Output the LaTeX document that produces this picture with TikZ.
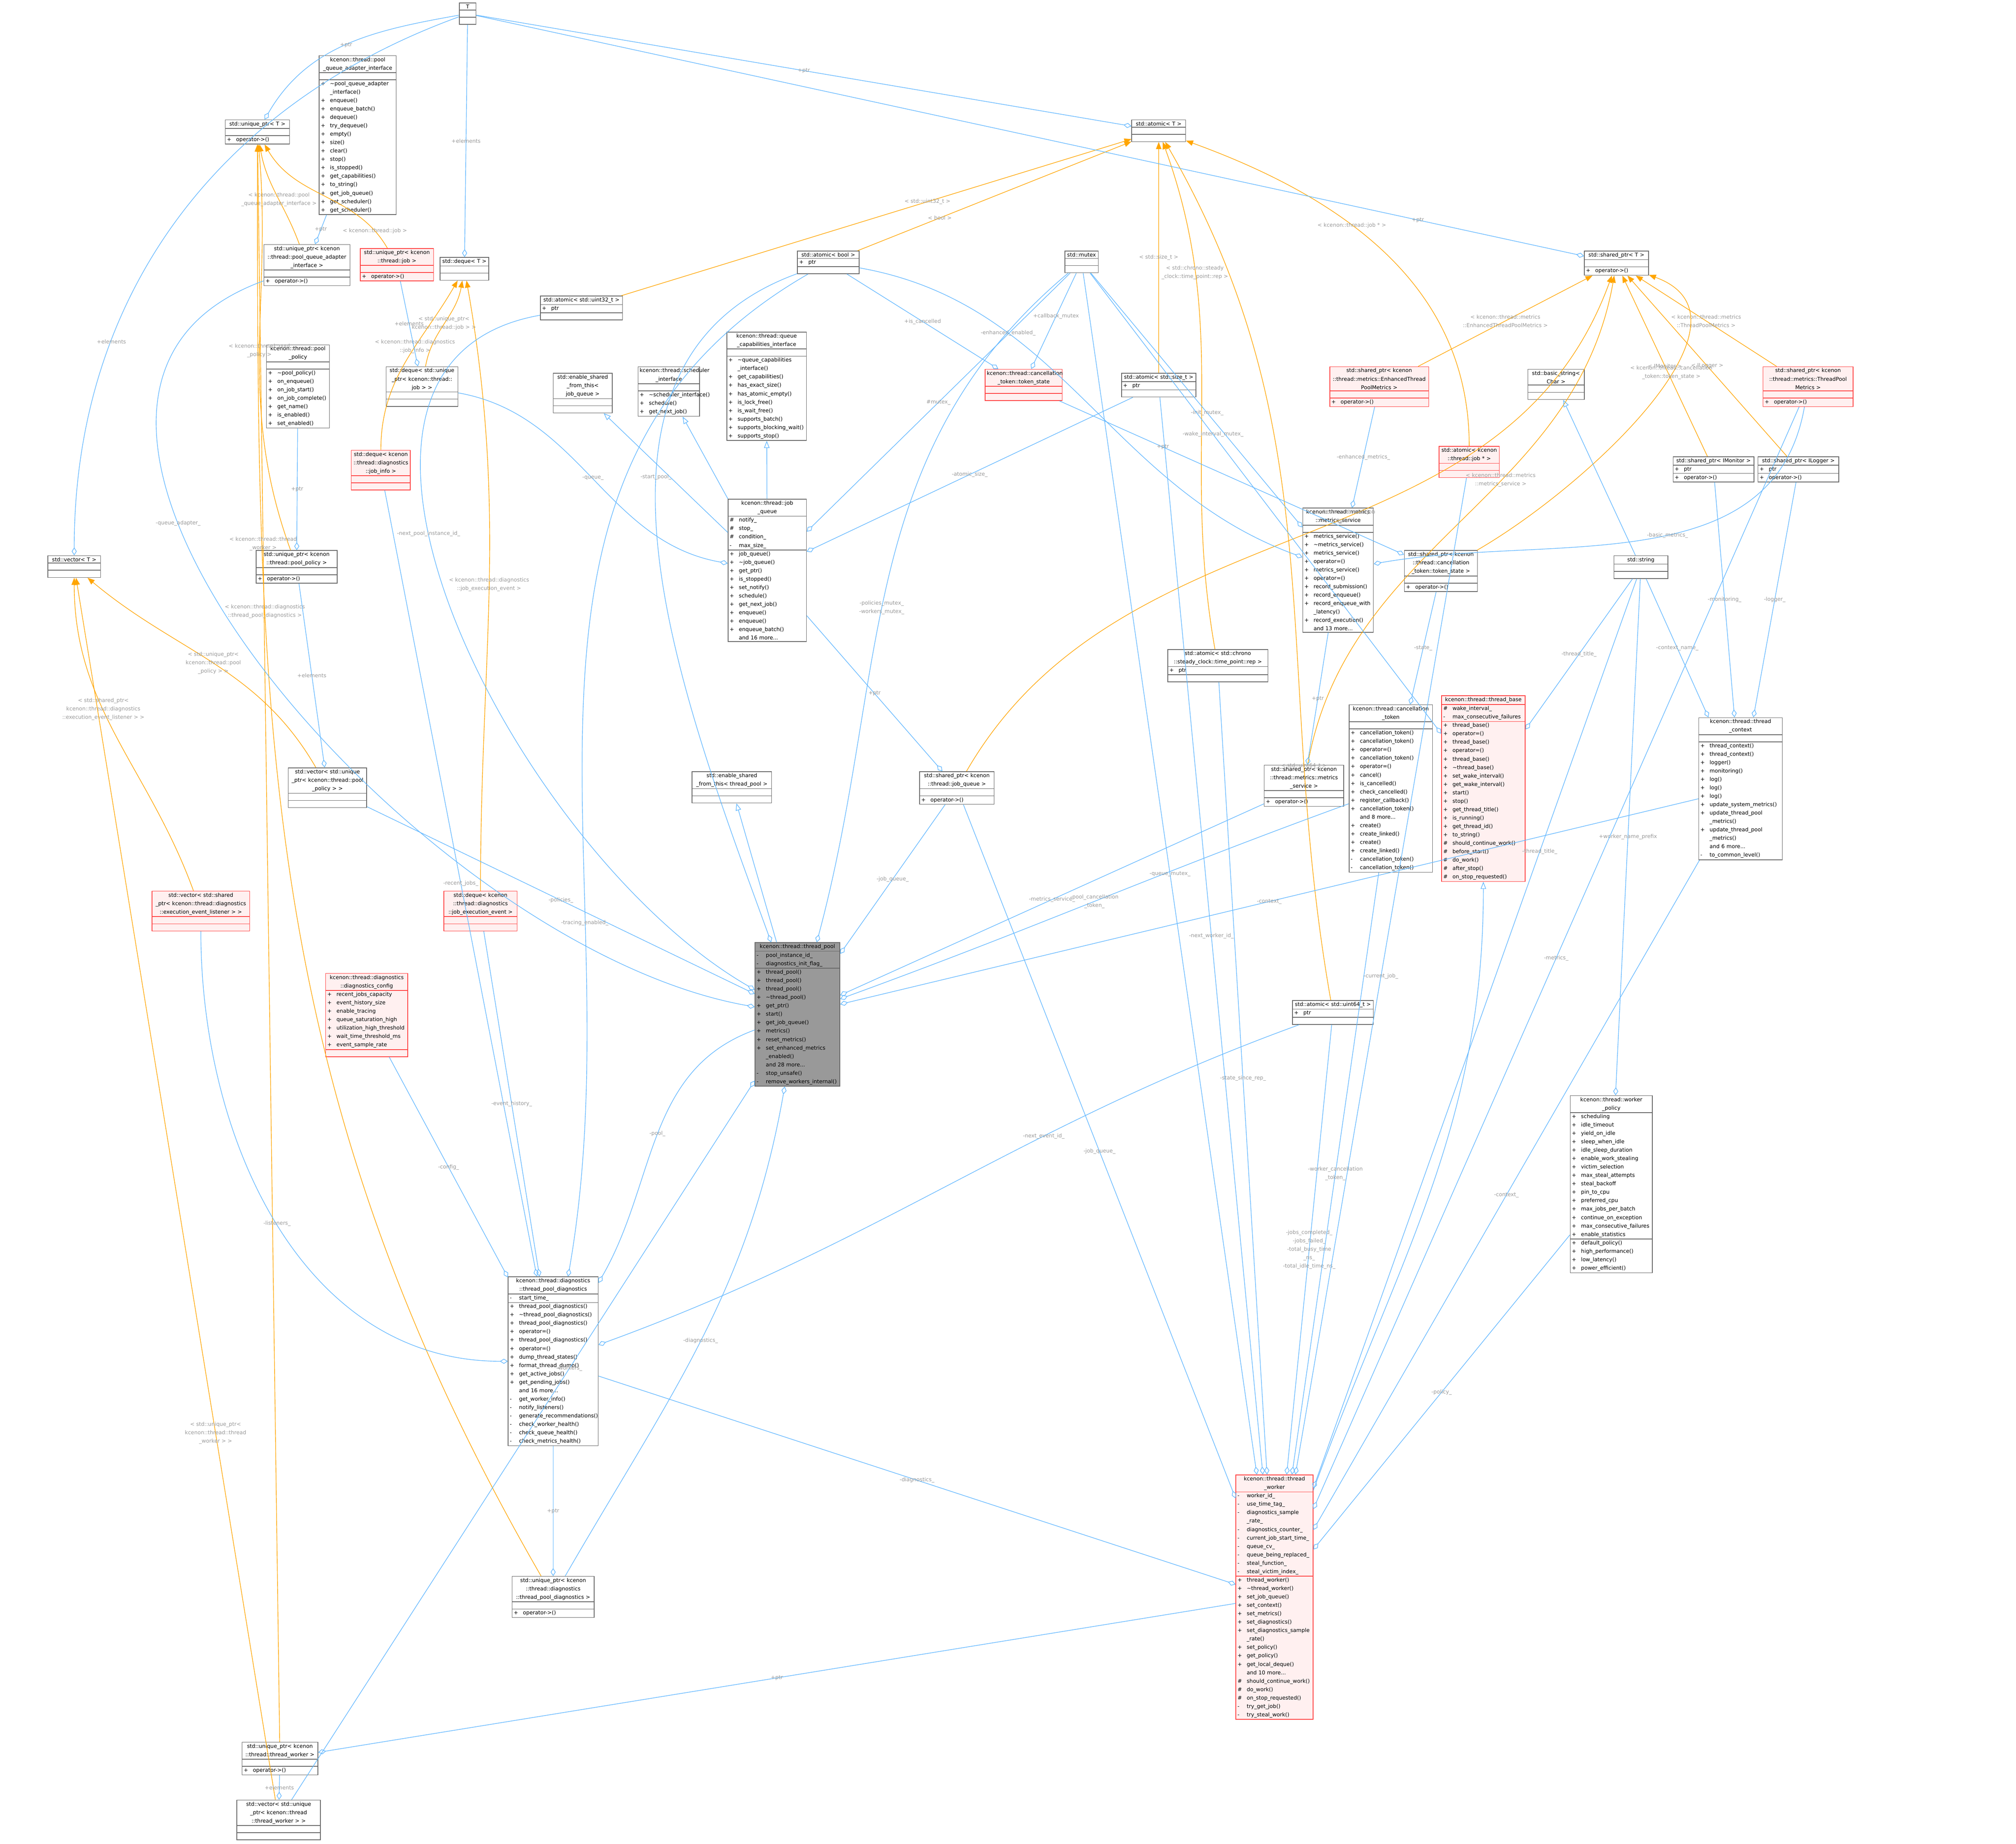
\documentclass[tikz,border=0pt]{standalone}
\usepackage{fontspec}
\setmainfont{DejaVu Sans}
\usetikzlibrary{shapes.multipart,arrows.meta}
\definecolor{bx}{HTML}{666666}
\definecolor{rbx}{HTML}{FF4040}
\definecolor{rfill}{HTML}{FFF0F0}
\definecolor{eb}{HTML}{63B8FF}
\definecolor{eo}{HTML}{FFA500}
\definecolor{lg}{HTML}{9A9A9A}
\newcommand\fs{\fontsize{3.6}{5.7}\selectfont}
\newcommand\Mb[2]{\makebox[2.2mm][l]{#1}#2\par}
\newcommand\Mc[1]{\hspace*{2.2mm}#1\par}
\newcommand\E{\rule{0pt}{2.6pt}}
\newcommand\ttl[1]{{\centering #1\par}}
\newcommand\cls[8][]{%
 \pgfmathsetmacro\tw{#5*0.3062-0.8}%
 \node[cls,#1,text width=\tw mm] (#2) at (#3,#4) {\ttl{#6}\nodepart{second}#7\nodepart{third}#8};}
\tikzset{
 cls/.style={rectangle split,rectangle split parts=3,draw=bx,fill=white,font=\fs,align=left,
   inner xsep=1.1pt,inner ysep=0.9pt,anchor=north west,line width=0.45pt,
   rectangle split ignore empty parts=false,rectangle split empty part height=2.6pt},
 red/.style={draw=rbx,fill=rfill},
 cur/.style={fill=black!40,draw=bx},
 lbl/.style={font=\fs,text=lg,align=center,inner sep=0.5pt},
 comp/.style={draw=eb,line width=0.4pt,-{Diamond[open,length=1.9mm,width=1.2mm]}},
 inh/.style={draw=eb,line width=0.4pt,-{Triangle[open,length=1.7mm,width=1.3mm]}},
 tmpl/.style={draw=eo,line width=0.4pt,-{Triangle[length=1.7mm,width=1.3mm]}},
}
\begin{document}
\begin{tikzpicture}[x=0.3062mm,y=-0.3062mm]
\path[fill=white,use as bounding box] (0,0) rectangle (1568,1434.4);
% ---------- nodes ----------
\cls{T}{357}{2}{13}{T}{\E}{\E}
\cls{uT}{175}{93}{50}{std::unique\_ptr< T >}{\E}{\Mb{+}{operator->()}}
\cls{pqai}{248}{43}{60}{kcenon::thread::pool\\\_queue\_adapter\_interface}{\E}{\Mb{+}{\textasciitilde pool\_queue\_adapter}\Mc{\_interface()}\Mb{+}{enqueue()}\Mb{+}{enqueue\_batch()}\Mb{+}{dequeue()}\Mb{+}{try\_dequeue()}\Mb{+}{empty()}\Mb{+}{size()}\Mb{+}{clear()}\Mb{+}{stop()}\Mb{+}{is\_stopped()}\Mb{+}{get\_capabilities()}\Mb{+}{to\_string()}\Mb{+}{get\_job\_queue()}\Mb{+}{get\_scheduler()}\Mb{+}{get\_scheduler()}}
\cls{upqa}{205}{190}{67}{std::unique\_ptr< kcenon\\::thread::pool\_queue\_adapter\\\_interface >}{\E}{\Mb{+}{operator->()}}
\cls[red]{ujob}{280}{193}{57}{std::unique\_ptr< kcenon\\::thread::job >}{\E}{\Mb{+}{operator->()}}
\cls{dqT}{342}{200}{38}{std::deque< T >}{\E}{\E}
\cls{atu32}{420}{230}{64}{std::atomic< std::uint32\_t >}{\Mb{+}{ptr}}{\E}
\cls{atT}{880}{93}{42}{std::atomic< T >}{\E}{\E}
\cls{atbool}{620}{195}{48}{std::atomic< bool >}{\Mb{+}{ptr}}{\E}
\cls{mutex}{828}{195}{26}{std::mutex}{\E}{\E}
\cls{shT}{1232}{195}{50}{std::shared\_ptr< T >}{\E}{\Mb{+}{operator->()}}
\cls{ppol}{207}{268}{49}{kcenon::thread::pool\\\_policy}{\E}{\Mb{+}{\textasciitilde pool\_policy()}\Mb{+}{on\_enqueue()}\Mb{+}{on\_job\_start()}\Mb{+}{on\_job\_complete()}\Mb{+}{get\_name()}\Mb{+}{is\_enabled()}\Mb{+}{set\_enabled()}}
\cls{dqujob}{300}{285}{56}{std::deque< std::unique\\\_ptr< kcenon::thread::\\job > >}{\E}{\E}
\cls{esftjq}{430}{290}{46}{std::enable\_shared\\\_from\_this< job\_queue >}{\E}{\E}
\cls{sched}{496}{285}{48}{kcenon::thread::scheduler\\\_interface}{\E}{\Mb{+}{\textasciitilde scheduler\_interface()}\Mb{+}{schedule()}\Mb{+}{get\_next\_job()}}
\cls{qcap}{565}{258}{62}{kcenon::thread::queue\\\_capabilities\_interface}{\E}{\Mb{+}{\textasciitilde queue\_capabilities}\Mc{\_interface()}\Mb{+}{get\_capabilities()}\Mb{+}{has\_exact\_size()}\Mb{+}{has\_atomic\_empty()}\Mb{+}{is\_lock\_free()}\Mb{+}{is\_wait\_free()}\Mb{+}{supports\_batch()}\Mb{+}{supports\_blocking\_wait()}\Mb{+}{supports\_stop()}}
\cls[red]{tstate}{766}{287}{60}{kcenon::thread::cancellation\\\_token::token\_state}{\E}{\E}
\cls{atsize}{872}{290}{58}{std::atomic< std::size\_t >}{\Mb{+}{ptr}}{\E}
\cls[red]{shenh}{1034}{285}{77}{std::shared\_ptr< kcenon\\::thread::metrics::EnhancedThread\\PoolMetrics >}{\E}{\Mb{+}{operator->()}}
\cls{bstr}{1188}{287}{44}{std::basic\_string<\\Char >}{\E}{\E}
\cls[red]{shtpm}{1371}{285}{70}{std::shared\_ptr< kcenon\\::thread::metrics::ThreadPool\\Metrics >}{\E}{\Mb{+}{operator->()}}
\cls[red]{dqji}{273}{350}{46}{std::deque< kcenon\\::thread::diagnostics\\::job\_info >}{\E}{\E}
\cls[red]{atjob}{1119}{347}{47}{std::atomic< kcenon\\::thread::job * >}{\E}{\E}
\cls{shmon}{1301}{355}{63}{std::shared\_ptr< IMonitor >}{\Mb{+}{ptr}}{\Mb{+}{operator->()}}
\cls{shlog}{1367}{355}{63}{std::shared\_ptr< ILogger >}{\Mb{+}{ptr}}{\Mb{+}{operator->()}}
\cls{upp}{199}{428}{63}{std::unique\_ptr< kcenon\\::thread::pool\_policy >}{\E}{\Mb{+}{operator->()}}
\cls{vecT}{37}{432}{41}{std::vector< T >}{\E}{\E}
\cls{jq}{566}{388}{61}{kcenon::thread::job\\\_queue}{\Mb{\#}{notify\_}\Mb{\#}{stop\_}\Mb{\#}{condition\_}\Mb{-}{max\_size\_}}{\Mb{+}{job\_queue()}\Mb{+}{\textasciitilde job\_queue()}\Mb{+}{get\_ptr()}\Mb{+}{is\_stopped()}\Mb{+}{set\_notify()}\Mb{+}{schedule()}\Mb{+}{get\_next\_job()}\Mb{+}{enqueue()}\Mb{+}{enqueue()}\Mb{+}{enqueue\_batch()}\Mc{and 16 more...}}
\cls{ms}{1013}{395}{55}{kcenon::thread::metrics\\::metrics\_service}{\E}{\Mb{+}{metrics\_service()}\Mb{+}{\textasciitilde metrics\_service()}\Mb{+}{metrics\_service()}\Mb{+}{operator=()}\Mb{+}{metrics\_service()}\Mb{+}{operator=()}\Mb{+}{record\_submission()}\Mb{+}{record\_enqueue()}\Mb{+}{record\_enqueue\_with}\Mc{\_latency()}\Mb{+}{record\_execution()}\Mc{and 13 more...}}
\cls{shts}{1092}{428}{57}{std::shared\_ptr< kcenon\\::thread::cancellation\\\_token::token\_state >}{\E}{\Mb{+}{operator->()}}
\cls{str}{1255}{432}{42}{std::string}{\E}{\E}
\cls{atrep}{908}{505}{78}{std::atomic< std::chrono\\::steady\_clock::time\_point::rep >}{\Mb{+}{ptr}}{\E}
\cls{ctok}{1049}{548}{65}{kcenon::thread::cancellation\\\_token}{\E}{\Mb{+}{cancellation\_token()}\Mb{+}{cancellation\_token()}\Mb{+}{operator=()}\Mb{+}{cancellation\_token()}\Mb{+}{operator=()}\Mb{+}{cancel()}\Mb{+}{is\_cancelled()}\Mb{+}{check\_cancelled()}\Mb{+}{register\_callback()}\Mb{+}{cancellation\_token()}\Mc{and 8 more...}\Mb{+}{create()}\Mb{+}{create\_linked()}\Mb{+}{create()}\Mb{+}{create\_linked()}\Mb{-}{cancellation\_token()}\Mb{-}{cancellation\_token()}}
\cls[red]{tbase}{1121}{541}{65}{kcenon::thread::thread\_base}{\Mb{\#}{wake\_interval\_}\Mb{-}{max\_consecutive\_failures}}{\Mb{+}{thread\_base()}\Mb{+}{operator=()}\Mb{+}{thread\_base()}\Mb{+}{operator=()}\Mb{+}{thread\_base()}\Mb{+}{\textasciitilde thread\_base()}\Mb{+}{set\_wake\_interval()}\Mb{+}{get\_wake\_interval()}\Mb{+}{start()}\Mb{+}{stop()}\Mb{+}{get\_thread\_title()}\Mb{+}{is\_running()}\Mb{+}{get\_thread\_id()}\Mb{+}{to\_string()}\Mb{\#}{should\_continue\_work()}\Mb{\#}{before\_start()}\Mb{\#}{do\_work()}\Mb{\#}{after\_stop()}\Mb{\#}{on\_stop\_requested()}}
\cls{tctx}{1321}{558}{65}{kcenon::thread::thread\\\_context}{\E}{\Mb{+}{thread\_context()}\Mb{+}{thread\_context()}\Mb{+}{logger()}\Mb{+}{monitoring()}\Mb{+}{log()}\Mb{+}{log()}\Mb{+}{log()}\Mb{+}{update\_system\_metrics()}\Mb{+}{update\_thread\_pool}\Mc{\_metrics()}\Mb{+}{update\_thread\_pool}\Mc{\_metrics()}\Mc{and 6 more...}\Mb{-}{to\_common\_level()}}
\cls{vecupp}{224}{597}{61}{std::vector< std::unique\\\_ptr< kcenon::thread::pool\\\_policy > >}{\E}{\E}
\cls{esfttp}{538}{600}{62}{std::enable\_shared\\\_from\_this< thread\_pool >}{\E}{\E}
\cls{shjq}{715}{600}{58}{std::shared\_ptr< kcenon\\::thread::job\_queue >}{\E}{\Mb{+}{operator->()}}
\cls{shms}{983}{595}{62}{std::shared\_ptr< kcenon\\::thread::metrics::metrics\\\_service >}{\E}{\Mb{+}{operator->()}}
\cls[red]{veclis}{118}{693}{76}{std::vector< std::shared\\\_ptr< kcenon::thread::diagnostics\\::execution\_event\_listener > >}{\E}{\E}
\cls[red]{dqjee}{345}{693}{57}{std::deque< kcenon\\::thread::diagnostics\\::job\_execution\_event >}{\E}{\E}
\cls[cur]{tp}{587}{733}{66}{kcenon::thread::thread\_pool}{\Mb{-}{pool\_instance\_id\_}\Mb{-}{diagnostics\_init\_flag\_}}{\Mb{+}{thread\_pool()}\Mb{+}{thread\_pool()}\Mb{+}{thread\_pool()}\Mb{+}{\textasciitilde thread\_pool()}\Mb{+}{get\_ptr()}\Mb{+}{start()}\Mb{+}{get\_job\_queue()}\Mb{+}{metrics()}\Mb{+}{reset\_metrics()}\Mb{+}{set\_enhanced\_metrics}\Mc{\_enabled()}\Mc{and 28 more...}\Mb{-}{stop\_unsafe()}\Mb{-}{remove\_workers\_internal()}}
\cls[red]{dcfg}{253}{757}{64}{kcenon::thread::diagnostics\\::diagnostics\_config}{\Mb{+}{recent\_jobs\_capacity}\Mb{+}{event\_history\_size}\Mb{+}{enable\_tracing}\Mb{+}{queue\_saturation\_high}\Mb{+}{utilization\_high\_threshold}\Mb{+}{wait\_time\_threshold\_ms}\Mb{+}{event\_sample\_rate}}{\E}
\cls{atu64}{1005}{778}{63}{std::atomic< std::uint64\_t >}{\Mb{+}{ptr}}{\E}
\cls{wpol}{1221}{852}{64}{kcenon::thread::worker\\\_policy}{\Mb{+}{scheduling}\Mb{+}{idle\_timeout}\Mb{+}{yield\_on\_idle}\Mb{+}{sleep\_when\_idle}\Mb{+}{idle\_sleep\_duration}\Mb{+}{enable\_work\_stealing}\Mb{+}{victim\_selection}\Mb{+}{max\_steal\_attempts}\Mb{+}{steal\_backoff}\Mb{+}{pin\_to\_cpu}\Mb{+}{preferred\_cpu}\Mb{+}{max\_jobs\_per\_batch}\Mb{+}{continue\_on\_exception}\Mb{+}{max\_consecutive\_failures}\Mb{+}{enable\_statistics}}{\Mb{+}{default\_policy()}\Mb{+}{high\_performance()}\Mb{+}{low\_latency()}\Mb{+}{power\_efficient()}}
\cls{tpd}{395}{993}{70}{kcenon::thread::diagnostics\\::thread\_pool\_diagnostics}{\Mb{-}{start\_time\_}}{\Mb{+}{thread\_pool\_diagnostics()}\Mb{+}{\textasciitilde thread\_pool\_diagnostics()}\Mb{+}{thread\_pool\_diagnostics()}\Mb{+}{operator=()}\Mb{+}{thread\_pool\_diagnostics()}\Mb{+}{operator=()}\Mb{+}{dump\_thread\_states()}\Mb{+}{format\_thread\_dump()}\Mb{+}{get\_active\_jobs()}\Mb{+}{get\_pending\_jobs()}\Mc{and 16 more...}\Mb{-}{get\_worker\_info()}\Mb{-}{notify\_listeners()}\Mb{-}{generate\_recommendations()}\Mb{-}{check\_worker\_health()}\Mb{-}{check\_queue\_health()}\Mb{-}{check\_metrics\_health()}}
\cls[red]{tw}{961}{1147}{60}{kcenon::thread::thread\\\_worker}{\Mb{-}{worker\_id\_}\Mb{-}{use\_time\_tag\_}\Mb{-}{diagnostics\_sample}\Mc{\_rate\_}\Mb{-}{diagnostics\_counter\_}\Mb{-}{current\_job\_start\_time\_}\Mb{-}{queue\_cv\_}\Mb{-}{queue\_being\_replaced\_}\Mb{-}{steal\_function\_}\Mb{-}{steal\_victim\_index\_}}{\Mb{+}{thread\_worker()}\Mb{+}{\textasciitilde thread\_worker()}\Mb{+}{set\_job\_queue()}\Mb{+}{set\_context()}\Mb{+}{set\_metrics()}\Mb{+}{set\_diagnostics()}\Mb{+}{set\_diagnostics\_sample}\Mc{\_rate()}\Mb{+}{set\_policy()}\Mb{+}{get\_policy()}\Mb{+}{get\_local\_deque()}\Mc{and 10 more...}\Mb{\#}{should\_continue\_work()}\Mb{\#}{do\_work()}\Mb{\#}{on\_stop\_requested()}\Mb{-}{try\_get\_job()}\Mb{-}{try\_steal\_work()}}
\cls{utpd}{398}{1226}{64}{std::unique\_ptr< kcenon\\::thread::diagnostics\\::thread\_pool\_diagnostics >}{\E}{\Mb{+}{operator->()}}
\cls{utw}{188}{1355}{59}{std::unique\_ptr< kcenon\\::thread::thread\_worker >}{\E}{\Mb{+}{operator->()}}
\cls{vecutw}{184}{1400}{65}{std::vector< std::unique\\\_ptr< kcenon::thread\\::thread\_worker > >}{\E}{\E}
% ---------- template instances (orange) ----------
\draw[tmpl] (upqa) to[out=110,in=-80] node[lbl,pos=.45]{< kcenon::thread::pool\\\_queue\_adapter\_interface >} (uT);
\draw[tmpl] (ujob) to[out=120,in=-60] node[lbl,pos=.12]{< kcenon::thread::job >} (uT);
\draw[tmpl] (upp) to[out=110,in=-85] node[lbl,pos=.5]{< kcenon::thread::pool\\\_policy >} (uT);
\draw[tmpl] (utpd) to[out=120,in=-90] node[lbl,pos=.7]{< kcenon::thread::diagnostics\\::thread\_pool\_diagnostics >} (uT);
\draw[tmpl] (utw) -- node[lbl,pos=.75]{< kcenon::thread::thread\\\_worker >} (uT);
\draw[tmpl] (dqujob) to[out=80,in=-100] node[lbl,pos=.5]{< std::unique\_ptr<\\kcenon::thread::job > >} (dqT);
\draw[tmpl] (dqji) to[out=90,in=-120] node[lbl,pos=.6]{< kcenon::thread::diagnostics\\::job\_info >} (dqT);
\draw[tmpl] (dqjee) to[out=90,in=-80] node[lbl,pos=.5]{< kcenon::thread::diagnostics\\::job\_execution\_event >} (dqT);
\draw[tmpl] (veclis) to[out=110,in=-90] node[lbl,pos=.6]{< std::shared\_ptr<\\kcenon::thread::diagnostics\\::execution\_event\_listener > >} (vecT);
\draw[tmpl] (vecupp) to[out=120,in=-40] node[lbl,pos=.5]{< std::unique\_ptr<\\kcenon::thread::pool\\\_policy > >} (vecT);
\draw[tmpl] (vecutw) -- node[lbl,pos=.3]{< std::unique\_ptr<\\kcenon::thread::thread\\\_worker > >} (vecT);
\draw[tmpl] (atu32) -- node[lbl,pos=.6]{< std::uint32\_t >} (atT);
\draw[tmpl] (atbool) -- node[lbl,pos=.3]{< bool >} (atT);
\draw[tmpl] (atsize) -- node[lbl,pos=.5]{< std::size\_t >} (atT);
\draw[tmpl] (atrep) to[out=100,in=-70] node[lbl,pos=.75]{< std::chrono::steady\\\_clock::time\_point::rep >} (atT);
\draw[tmpl] (atu64) to[out=100,in=-60] node[lbl,pos=.25]{< std::uint64\_t >} (atT);
\draw[tmpl] (atjob) to[out=90,in=-20] node[lbl,pos=.6]{< kcenon::thread::job * >} (atT);
\draw[tmpl] (shenh) -- node[lbl,pos=.5]{< kcenon::thread::metrics\\::EnhancedThreadPoolMetrics >} (shT);
\draw[tmpl] (shtpm) -- node[lbl,pos=.5]{< kcenon::thread::metrics\\::ThreadPoolMetrics >} (shT);
\draw[tmpl] (shmon) -- node[lbl,pos=.5]{< IMonitor >} (shT);
\draw[tmpl] (shlog) -- node[lbl,pos=.5]{< ILogger >} (shT);
\draw[tmpl] (shts) to[out=30,in=-20] node[lbl,pos=.6]{< kcenon::thread::cancellation\\\_token::token\_state >} (shT);
\draw[tmpl] (shjq) to[out=60,in=-110] node[lbl,pos=.55]{< kcenon::thread::job\\\_queue >} (shT);
\draw[tmpl] (shms) to[out=80,in=-100] node[lbl,pos=.6]{< kcenon::thread::metrics\\::metrics\_service >} (shT);
% ---------- inheritance ----------
\draw[inh] (jq) -- (esftjq);
\draw[inh] (jq) -- (sched);
\draw[inh] (jq) -- (qcap);
\draw[inh] (tp) -- (esfttp);
\draw[inh] (tw) to[out=70,in=-90] (tbase);
\draw[inh] (str) -- (bstr);
% ---------- composition ----------
\draw[comp] (T) to[out=190,in=60] node[lbl,pos=.5]{+ptr} (uT);
\draw[comp] (T) -- node[lbl,pos=.5]{+ptr} (atT);
\draw[comp] (T) -- node[lbl,pos=.85]{+ptr} (shT);
\draw[comp] (T) -- node[lbl,pos=.5]{+elements} (dqT);
\draw[comp] (T) to[out=200,in=90] node[lbl,pos=.7]{+elements} (vecT);
\draw[comp] (pqai) -- node[lbl,pos=.5]{+ptr} (upqa);
\draw[comp] (ujob) -- node[lbl,pos=.5]{+elements} (dqujob);
\draw[comp] (ppol) -- node[lbl,pos=.5]{+ptr} (upp);
\draw[comp] (upp) -- node[lbl,pos=.5]{+elements} (vecupp);
\draw[comp] (vecupp) -- node[lbl,pos=.5]{-policies\_} (tp);
\draw[comp] (upqa) to[out=200,in=170] node[lbl,pos=.35]{-queue\_adapter\_} (tp);
\draw[comp] (atu32) to[out=190,in=150] node[lbl,pos=.4]{-next\_pool\_instance\_id\_} (tp);
\draw[comp] (atbool) to[out=200,in=110] node[lbl,pos=.4]{-start\_pool\_} (tp);
\draw[comp] (dqujob) to[out=-10,in=170] node[lbl,pos=.5]{-queue\_} (jq);
\draw[comp] (mutex) -- node[lbl,pos=.5]{\#mutex\_} (jq);
\draw[comp] (atbool) -- node[lbl,pos=.5]{+is\_cancelled} (tstate);
\draw[comp] (mutex) -- node[lbl,pos=.45]{+callback\_mutex} (tstate);
\draw[comp] (atsize) -- node[lbl,pos=.5]{-atomic\_size\_} (jq);
\draw[comp] (atbool) to[out=-10,in=160] node[lbl,pos=.3]{-enhanced\_enabled\_} (ms);
\draw[comp] (mutex) -- node[lbl,pos=.55]{-init\_mutex\_} (ms);
\draw[comp] (shenh) -- node[lbl,pos=.5]{-enhanced\_metrics\_} (ms);
\draw[comp] (shtpm) to[out=-100,in=10] node[lbl,pos=.45]{-basic\_metrics\_} (ms);
\draw[comp] (tstate) -- node[lbl,pos=.3]{+ptr} (shts);
\draw[comp] (shts) -- node[lbl,pos=.5]{-state\_} (ctok);
\draw[comp] (mutex) -- node[lbl,pos=.35]{-wake\_interval\_mutex\_} (tbase);
\draw[comp] (str) -- node[lbl,pos=.5]{-thread\_title\_} (tbase);
\draw[comp] (str) -- node[lbl,pos=.5]{-context\_name\_} (tctx);
\draw[comp] (str) -- node[lbl,pos=.5]{+worker\_name\_prefix} (wpol);
\draw[comp] (shmon) -- node[lbl,pos=.5]{-monitoring\_} (tctx);
\draw[comp] (shlog) -- node[lbl,pos=.5]{-logger\_} (tctx);
\draw[comp] (jq) -- node[lbl,pos=.5]{+ptr} (shjq);
\draw[comp] (ms) -- node[lbl,pos=.5]{+ptr} (shms);
\draw[comp] (shjq) -- node[lbl,pos=.5]{-job\_queue\_} (tp);
\draw[comp] (shms) -- node[lbl,pos=.5]{-metrics\_service\_} (tp);
\draw[comp] (ctok) to[out=200,in=20] node[lbl,pos=.5]{-pool\_cancellation\\\_token\_} (tp);
\draw[comp] (tctx) -- node[lbl,pos=.5]{-context\_} (tp);
\draw[comp] (mutex) to[out=220,in=75] node[lbl,pos=.55]{-policies\_mutex\_\\-workers\_mutex\_} (tp);
\draw[comp] (atbool) to[out=210,in=80] node[lbl,pos=.7]{-tracing\_enabled\_} (tpd);
\draw[comp] (utw) -- node[lbl,pos=.5]{+elements} (vecutw);
\draw[comp] (vecutw) -- node[lbl,pos=.6]{-workers\_} (tp);
\draw[comp] (tw) -- node[lbl,pos=.5]{+ptr} (utw);
\draw[comp] (utpd) to[out=60,in=-100] node[lbl,pos=.5]{-diagnostics\_} (tp);
\draw[comp] (tpd) -- node[lbl,pos=.5]{+ptr} (utpd);
\draw[comp] (tp) to[out=200,in=60] node[lbl,pos=.5]{-pool\_} (tpd);
\draw[comp] (dqji) -- node[lbl,pos=.5]{-recent\_jobs\_} (tpd);
\draw[comp] (dqjee) -- node[lbl,pos=.5]{-event\_history\_} (tpd);
\draw[comp] (dcfg) -- node[lbl,pos=.5]{-config\_} (tpd);
\draw[comp] (veclis) to[out=-90,in=180] node[lbl,pos=.5]{-listeners\_} (tpd);
\draw[comp] (atu64) to[out=200,in=20] node[lbl,pos=.35]{-next\_event\_id\_} (tpd);
\draw[comp] (shjq) -- node[lbl,pos=.5]{-job\_queue\_} (tw);
\draw[comp] (atsize) -- node[lbl,pos=.5]{-next\_worker\_id\_} (tw);
\draw[comp] (atrep) -- node[lbl,pos=.5]{-state\_since\_rep\_} (tw);
\draw[comp] (atu64) -- node[lbl,pos=.5]{-jobs\_completed\_\\-jobs\_failed\_\\-total\_busy\_time\\\_ns\_\\-total\_idle\_time\_ns\_} (tw);
\draw[comp] (ctok) -- node[lbl,pos=.5]{-worker\_cancellation\\\_token\_} (tw);
\draw[comp] (tctx) -- node[lbl,pos=.5]{-context\_} (tw);
\draw[comp] (wpol) -- node[lbl,pos=.5]{-policy\_} (tw);
\draw[comp] (shtpm) -- node[lbl,pos=.5]{-metrics\_} (tw);
\draw[comp] (atjob) -- node[lbl,pos=.5]{-current\_job\_} (tw);
\draw[comp] (str) -- node[lbl,pos=.3]{-thread\_title\_} (tw);
\draw[comp] (tpd) -- node[lbl,pos=.5]{-diagnostics\_} (tw);
\draw[comp] (mutex) -- node[lbl,pos=.5]{-queue\_mutex\_} (tw);
\end{tikzpicture}
\end{document}
